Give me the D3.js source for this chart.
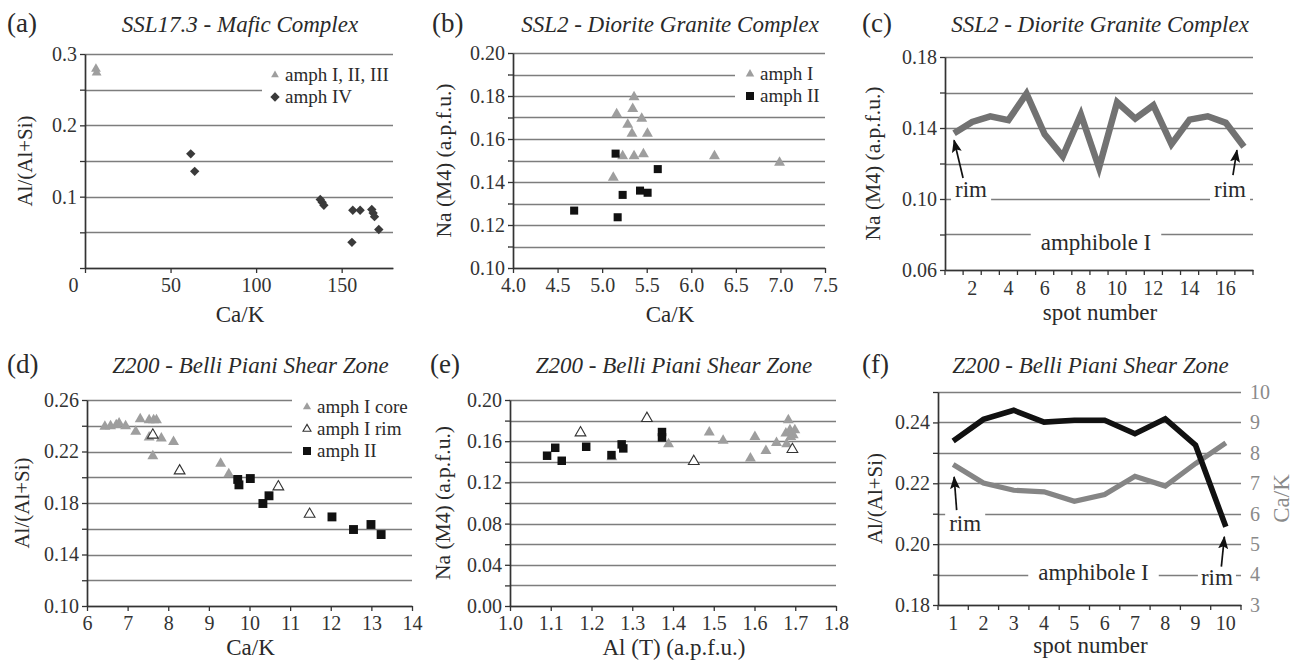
<!DOCTYPE html>
<html>
<head>
<meta charset="utf-8">
<script src="https://cdn.jsdelivr.net/npm/d3@7"></script>
<style>
  body { margin: 0; background: #fff; }
  svg text { font-family: "Liberation Serif", "DejaVu Serif", "Times New Roman", serif !important; }
</style>
</head>
<body>
<script>
// ---------- data ----------
// (a) SSL17.3 - Ca/K vs Al/(Al+Si)
var aAmph123 = [[6.4, 0.279], [6.8, 0.274]];
var aAmph4 = [[61.8, 0.160], [64.1, 0.1355], [137.5, 0.096], [138.6, 0.092], [139.6, 0.088],
              [156.5, 0.081], [160.8, 0.081], [167.6, 0.082], [168.4, 0.077], [169.2, 0.072],
              [171.7, 0.054], [156.0, 0.036]];
var aXTicks = [0, 50, 100, 150];
var aYGrid = [0, 0.05, 0.1, 0.15, 0.2, 0.25, 0.3];
var aYTicks = [0.1, 0.2, 0.3];

// (b) SSL2 - Ca/K vs Na(M4)
var bAmph1 = [[5.358, 0.1795], [5.343, 0.174], [5.163, 0.1716], [5.444, 0.1695], [5.287, 0.1667],
              [5.335, 0.1625], [5.508, 0.1625], [5.23, 0.152], [5.358, 0.152], [5.463, 0.153],
              [6.26, 0.152], [6.99, 0.149], [5.125, 0.142]];
var bAmph2 = [[5.151, 0.1532], [5.624, 0.146], [5.23, 0.134], [5.425, 0.136], [5.51, 0.135],
              [4.686, 0.1267], [5.174, 0.1236]];
var bXTicks = [4.0, 4.5, 5.0, 5.5, 6.0, 6.5, 7.0, 7.5];
var bYGrid = [0.10, 0.11, 0.12, 0.13, 0.14, 0.15, 0.16, 0.17, 0.18, 0.19, 0.20];
var bYTicks = [0.10, 0.12, 0.14, 0.16, 0.18, 0.20];

// (c) SSL2 - Na(M4) profile, amphibole I
var cSpots = [1, 2, 3, 4, 5, 6, 7, 8, 9, 10, 11, 12, 13, 14, 15, 16, 17];
var cSpotLabels = [2, 4, 6, 8, 10, 12, 14, 16];
var cNa = [0.137, 0.1434, 0.1466, 0.1444, 0.1594, 0.1365, 0.1241, 0.1476, 0.1176,
           0.1545, 0.1453, 0.1528, 0.1309, 0.1447, 0.1466, 0.1429, 0.1294];
var cYGrid = [0.06, 0.08, 0.10, 0.12, 0.14, 0.16, 0.18];
var cYTicks = [0.06, 0.10, 0.14, 0.18];

// (d) Z200 - Ca/K vs Al/(Al+Si)
var dCore = [[6.44, 0.2393], [6.58, 0.2398], [6.72, 0.2405], [6.79, 0.2418], [6.95, 0.2398],
             [7.20, 0.2354], [7.31, 0.2452], [7.53, 0.2444], [7.64, 0.2444], [7.71, 0.2444],
             [7.53, 0.231], [7.83, 0.2302], [7.62, 0.2164], [8.13, 0.2276], [9.29, 0.2107],
             [9.49, 0.2024]];
var dRim = [[7.62, 0.2328], [8.28, 0.205], [10.71, 0.1926], [11.48, 0.1713]];
var dAmph2 = [[9.71, 0.1983], [9.74, 0.1941], [10.02, 0.199], [10.33, 0.1796], [10.48, 0.1856],
              [12.03, 0.1692], [12.56, 0.1594], [12.99, 0.1633], [13.24, 0.1555]];
var dXTicks = [6, 7, 8, 9, 10, 11, 12, 13, 14];
var dYGrid = [0.10, 0.12, 0.14, 0.16, 0.18, 0.20, 0.22, 0.24, 0.26];
var dYTicks = [0.10, 0.14, 0.18, 0.22, 0.26];

// (e) Z200 - Al(T) vs Na(M4)
var eCore = [[1.25, 0.1445], [1.389, 0.1572], [1.489, 0.1686], [1.523, 0.1605], [1.590, 0.1433],
             [1.601, 0.1643], [1.628, 0.1507], [1.654, 0.1585], [1.683, 0.1806], [1.677, 0.1676],
             [1.687, 0.1708], [1.695, 0.166], [1.689, 0.1643], [1.679, 0.1572], [1.699, 0.1708]];
var eRim = [[1.173, 0.1682], [1.336, 0.1822], [1.451, 0.1404], [1.693, 0.152]];
var eAmph2 = [[1.091, 0.1459], [1.111, 0.1536], [1.127, 0.141], [1.187, 0.1546], [1.249, 0.1465],
              [1.274, 0.1569], [1.278, 0.153], [1.373, 0.1689], [1.373, 0.1637]];
var eXTicks = [1.0, 1.1, 1.2, 1.3, 1.4, 1.5, 1.6, 1.7, 1.8];
var eYGrid = [0.00, 0.02, 0.04, 0.06, 0.08, 0.10, 0.12, 0.14, 0.16, 0.18, 0.20];
var eYTicks = [0.00, 0.04, 0.08, 0.12, 0.16, 0.20];

// (f) Z200 - profile, amphibole I
var fSpots = [1, 2, 3, 4, 5, 6, 7, 8, 9, 10];
var fAl = [0.2339, 0.2410, 0.2440, 0.2401, 0.2407, 0.2407, 0.2363, 0.2412, 0.2325, 0.2057];
var fCaK = [7.62, 7.01, 6.77, 6.72, 6.41, 6.63, 7.23, 6.91, 7.65, 8.33];
var fYGrid = [0.18, 0.19, 0.20, 0.21, 0.22, 0.23, 0.24, 0.25];
var fYTicks = [0.18, 0.20, 0.22, 0.24];
var fY2Ticks = [3, 4, 5, 6, 7, 8, 9, 10];

// ---------- drawing ----------
var FONT = "'Liberation Serif', 'DejaVu Serif', 'Times New Roman', serif";
var svg = d3.select("body").append("svg").attr("width", 1300).attr("height", 666)
  .attr("font-family", FONT);

svg.append("defs").append("marker")
  .attr("id", "arrow").attr("markerUnits", "userSpaceOnUse")
  .attr("markerWidth", 13).attr("markerHeight", 11)
  .attr("refX", 12).attr("refY", 5).attr("orient", "auto")
  .append("path").attr("d", "M0,0L13,5L0,10L2.5,5Z").attr("fill", "#111");

var INK = "#2a2a2a";

function near(list, v) { return list.some(function (d) { return Math.abs(d - v) < 1e-9; }); }

function grid(box, y, vals) {
  svg.append("g").selectAll("line").data(vals).join("line")
    .attr("x1", box.l).attr("x2", box.r)
    .attr("y1", function (d) { return Math.round(y(d)) + 0.5; })
    .attr("y2", function (d) { return Math.round(y(d)) + 0.5; })
    .attr("stroke", "#7d7d7d").attr("stroke-width", 1.3);
}

function whiteBox(x, y, w, h) {
  svg.append("rect").attr("x", x).attr("y", y).attr("width", w).attr("height", h).attr("fill", "#fff");
}

function styleAxis(sel) {
  sel.attr("font-size", 20).attr("font-family", FONT);
  sel.select(".domain").attr("stroke", "#333").attr("stroke-width", 1.7);
  sel.selectAll(".tick line").attr("stroke", "#333").attr("stroke-width", 1.3);
  sel.selectAll(".tick text").attr("fill", "#333").style("font-family", FONT);
}

function yAxis(box, y, vals, labels, fmt) {
  var ax = d3.axisLeft(y).tickValues(vals).tickSize(5).tickSizeOuter(0).tickPadding(3)
    .tickFormat(function (d) { return near(labels, d) ? fmt(d) : ""; });
  styleAxis(svg.append("g").attr("transform", "translate(" + box.l + ",0)").call(ax));
}

function xAxisNum(box, x, vals, fmt, dx0) {
  var ax = d3.axisBottom(x).tickValues(vals).tickSize(5).tickSizeOuter(0).tickPadding(5).tickFormat(fmt);
  var g = svg.append("g").attr("transform", "translate(0," + box.b + ")").call(ax);
  styleAxis(g);
  if (dx0) g.selectAll(".tick text").filter(function (d) { return d === vals[0]; }).attr("dx", dx0);
}

function xAxisBand(box, x, labels) {
  var ax = d3.axisBottom(x).tickValues(labels).tickSize(0).tickSizeOuter(0).tickPadding(11);
  var g = svg.append("g").attr("transform", "translate(0," + box.b + ")").call(ax);
  styleAxis(g);
  var bounds = d3.range(x.domain().length + 1).map(function (i) { return box.l + i * x.bandwidth(); });
  g.selectAll(".bnd").data(bounds).join("line").attr("class", "bnd")
    .attr("x1", function (d) { return d; }).attr("x2", function (d) { return d; })
    .attr("y1", 0).attr("y2", 5).attr("stroke", "#333").attr("stroke-width", 1.3);
}

var SYM = {
  tri:  { type: d3.symbolTriangle, size: 52, fill: "#9e9e9e", stroke: "none", rot: 0 },
  otri: { type: d3.symbolTriangle, size: 50, fill: "#fff", stroke: "#333", rot: 0 },
  sq:   { type: d3.symbolSquare, size: 72, fill: "#111", stroke: "none", rot: 0 },
  dia:  { type: d3.symbolSquare, size: 44, fill: "#3a3a3a", stroke: "none", rot: 45 }
};

function symbolAt(px, py, kind, scale) {
  var s = SYM[kind];
  svg.append("path")
    .attr("d", d3.symbol().type(s.type).size(s.size * (scale || 1))())
    .attr("transform", "translate(" + px + "," + py + ") rotate(" + s.rot + ")")
    .attr("fill", s.fill).attr("stroke", s.stroke).attr("stroke-width", 1.1);
}

function scatter(x, y, pts, kind, scale) {
  pts.forEach(function (p) { symbolAt(x(p[0]), y(p[1]), kind, scale); });
}

function txt(sel) { return sel.style("font-family", FONT).attr("fill", INK); }

function legend(x0, rows) {
  rows.forEach(function (r) {
    symbolAt(x0, r.y, r.kind, r.scale);
    txt(svg.append("text")).attr("x", x0 + 10).attr("y", r.y + 6).attr("font-size", 19).text(r.label);
  });
}

function titles(box, letter, lx, base, title) {
  txt(svg.append("text")).attr("x", lx).attr("y", base).attr("font-size", 27).text(letter);
  txt(svg.append("text")).attr("x", (box.l + box.r) / 2 + 1).attr("y", base).attr("font-size", 23)
    .attr("font-style", "italic").attr("text-anchor", "middle").text(title);
}

function yTitle(x, cy, s, size, color) {
  txt(svg.append("text")).attr("transform", "translate(" + x + "," + cy + ") rotate(-90)")
    .attr("dy", "0.33em").attr("text-anchor", "middle").attr("font-size", size)
    .attr("fill", color || INK).text(s);
}

function xTitle(box, base, s) {
  txt(svg.append("text")).attr("x", (box.l + box.r) / 2 + 1).attr("y", base).attr("text-anchor", "middle")
    .attr("font-size", 23).text(s);
}

function note(px, py, s, anchor, pad) {
  var t = txt(svg.append("text")).attr("x", px).attr("y", py).attr("text-anchor", anchor || "start")
    .attr("font-size", 23).text(s);
  var bb = t.node().getBBox();
  svg.insert("rect", function () { return t.node(); })
    .attr("x", bb.x - pad).attr("y", bb.y).attr("width", bb.width + 2 * pad).attr("height", bb.height)
    .attr("fill", "#fff");
}

function arrow(x1, y1, x2, y2) {
  svg.append("line").attr("x1", x1).attr("y1", y1).attr("x2", x2).attr("y2", y2)
    .attr("stroke", "#111").attr("stroke-width", 1.7).attr("marker-end", "url(#arrow)");
}

var f1 = d3.format(".1f"), f2 = d3.format(".2f"), f0 = d3.format("d");

// ---- (a) ----
(function () {
  var box = { l: 85, r: 393, t: 54, b: 268 };
  var x = d3.scaleLinear().domain([0, 180]).range([box.l, box.r]);
  var y = d3.scaleLinear().domain([0, 0.3]).range([box.b, box.t]);
  grid(box, y, aYGrid);
  whiteBox(262, 63, box.r - 262 + 1, 44);
  scatter(x, y, aAmph123, "tri", 0.8);
  scatter(x, y, aAmph4, "dia");
  yAxis(box, y, aYGrid, aYTicks, f1);
  xAxisNum(box, x, aXTicks, f0, -12);
  legend(275, [{ y: 75, kind: "tri", label: "amph I, II, III", scale: 0.5 },
               { y: 97, kind: "dia", label: "amph IV" }]);
  titles(box, "(a)", 7, 32, "SSL17.3 - Mafic Complex");
  yTitle(25, (box.t + box.b) / 2, "Al/(Al+Si)", 21);
  xTitle(box, 322, "Ca/K");
})();

// ---- (b) ----
(function () {
  var box = { l: 513, r: 825, t: 53, b: 268 };
  var x = d3.scaleLinear().domain([4.0, 7.5]).range([box.l, box.r]);
  var y = d3.scaleLinear().domain([0.10, 0.20]).range([box.b, box.t]);
  grid(box, y, bYGrid);
  whiteBox(735, 63, box.r - 735 + 1, 44);
  scatter(x, y, bAmph1, "tri");
  scatter(x, y, bAmph2, "sq", 0.9);
  yAxis(box, y, bYGrid, bYTicks, f2);
  xAxisNum(box, x, bXTicks, f1);
  legend(750, [{ y: 74, kind: "tri", label: "amph I", scale: 0.6 },
               { y: 96, kind: "sq", label: "amph II", scale: 0.9 }]);
  titles(box, "(b)", 432, 32, "SSL2 - Diorite Granite Complex");
  yTitle(444, (box.t + box.b) / 2, "Na (M4) (a.p.f.u.)", 21.5);
  xTitle(box, 322, "Ca/K");
})();

// ---- (c) ----
(function () {
  var box = { l: 945, r: 1253, t: 57, b: 270 };
  var x = d3.scaleBand().domain(cSpots).range([box.l, box.r]).padding(0);
  var y = d3.scaleLinear().domain([0.06, 0.18]).range([box.b, box.t]);
  var cx = function (s) { return x(s) + x.bandwidth() / 2; };
  grid(box, y, cYGrid);
  note(cx(1) + 1, y(0.1011), "rim", "start", 4);
  note(cx(17) + 2, y(0.1013), "rim", "end", 4);
  note((box.l + box.r) / 2 - 3, y(0.0713), "amphibole I", "middle", 10);
  svg.append("path").datum(cNa)
    .attr("d", d3.line().x(function (d, i) { return cx(cSpots[i]); }).y(function (d) { return y(d); }))
    .attr("fill", "none").attr("stroke", "#727272").attr("stroke-width", 6.5);
  arrow(cx(1) + 9, y(0.1118), cx(1), y(0.1331));
  arrow(cx(17) - 11, y(0.1134), cx(17) - 7, y(0.1275));
  yAxis(box, y, cYGrid, cYTicks, f2);
  xAxisBand(box, x, cSpotLabels);
  titles(box, "(c)", 862, 32, "SSL2 - Diorite Granite Complex");
  yTitle(873, (box.t + box.b) / 2, "Na (M4) (a.p.f.u.)", 21.5);
  xTitle(box, 320, "spot number");
})();

// ---- (d) ----
(function () {
  var box = { l: 87, r: 412, t: 400, b: 606 };
  var x = d3.scaleLinear().domain([6, 14]).range([box.l, box.r]);
  var y = d3.scaleLinear().domain([0.10, 0.26]).range([box.b, box.t]);
  grid(box, y, dYGrid);
  whiteBox(292, 392, box.r - 292 + 1, 70);
  scatter(x, y, dCore, "tri");
  scatter(x, y, dRim, "otri");
  scatter(x, y, dAmph2, "sq", 1.1);
  yAxis(box, y, dYGrid, dYTicks, f2);
  xAxisNum(box, x, dXTicks, f0);
  legend(307, [{ y: 407, kind: "tri", label: "amph I core", scale: 0.55 },
               { y: 429, kind: "otri", label: "amph I rim", scale: 0.55 },
               { y: 451, kind: "sq", label: "amph II", scale: 0.9 }]);
  titles(box, "(d)", 7, 373, "Z200 - Belli Piani Shear Zone");
  yTitle(22, (box.t + box.b) / 2, "Al/(Al+Si)", 21);
  xTitle(box, 655, "Ca/K");
})();

// ---- (e) ----
(function () {
  var box = { l: 510, r: 836, t: 400, b: 606 };
  var x = d3.scaleLinear().domain([1.0, 1.8]).range([box.l, box.r]);
  var y = d3.scaleLinear().domain([0.00, 0.20]).range([box.b, box.t]);
  grid(box, y, eYGrid);
  scatter(x, y, eCore, "tri");
  scatter(x, y, eRim, "otri");
  scatter(x, y, eAmph2, "sq", 1.0);
  yAxis(box, y, eYGrid, eYTicks, f2);
  xAxisNum(box, x, eXTicks, f1);
  titles(box, "(e)", 430, 373, "Z200 - Belli Piani Shear Zone");
  yTitle(443, (box.t + box.b) / 2, "Na (M4) (a.p.f.u.)", 21.5);
  xTitle(box, 655, "Al (T) (a.p.f.u.)");
})();

// ---- (f) ----
(function () {
  var box = { l: 938, r: 1241, t: 392, b: 605 };
  var x = d3.scaleBand().domain(fSpots).range([box.l, box.r]).padding(0);
  var y = d3.scaleLinear().domain([0.18, 0.25]).range([box.b, box.t]);
  var y2 = d3.scaleLinear().domain([3, 10]).range([box.b, box.t]);
  var cx = function (s) { return x(s) + x.bandwidth() / 2; };
  grid(box, y, fYGrid);
  note(cx(1) - 4, y(0.2044), "rim", "start", 4);
  note(cx(10) + 7, y(0.1866), "rim", "end", 3);
  note((box.l + box.r) / 2 + 4, y(0.1882), "amphibole I", "middle", 10);
  svg.append("path").datum(fCaK)
    .attr("d", d3.line().x(function (d, i) { return cx(fSpots[i]); }).y(function (d) { return y2(d); }))
    .attr("fill", "none").attr("stroke", "#858585").attr("stroke-width", 5.2);
  svg.append("path").datum(fAl)
    .attr("d", d3.line().x(function (d, i) { return cx(fSpots[i]); }).y(function (d) { return y(d); }))
    .attr("fill", "none").attr("stroke", "#111").attr("stroke-width", 5.6);
  arrow(cx(1) + 3.5, y(0.2112), cx(1) + 1, y(0.2221));
  arrow(cx(10) - 4.5, y(0.1926), cx(10) - 1.5, y(0.2024));
  yAxis(box, y, fYGrid, fYTicks, f2);
  var ax2 = d3.axisRight(y2).tickValues(fY2Ticks).tickSize(0).tickPadding(9).tickFormat(f0);
  var g2 = svg.append("g").attr("transform", "translate(" + box.r + ",0)").call(ax2);
  styleAxis(g2);
  g2.select(".domain").remove();
  g2.selectAll(".tick text").attr("fill", "#8a8a8a");
  xAxisBand(box, x, fSpots);
  titles(box, "(f)", 862, 373, "Z200 - Belli Piani Shear Zone");
  yTitle(875, (box.t + box.b) / 2, "Al/(Al+Si)", 21);
  yTitle(1281, (box.t + box.b) / 2, "Ca/K", 23, "#8a8a8a");
  xTitle(box, 653, "spot number");
})();
</script>
</body>
</html>
